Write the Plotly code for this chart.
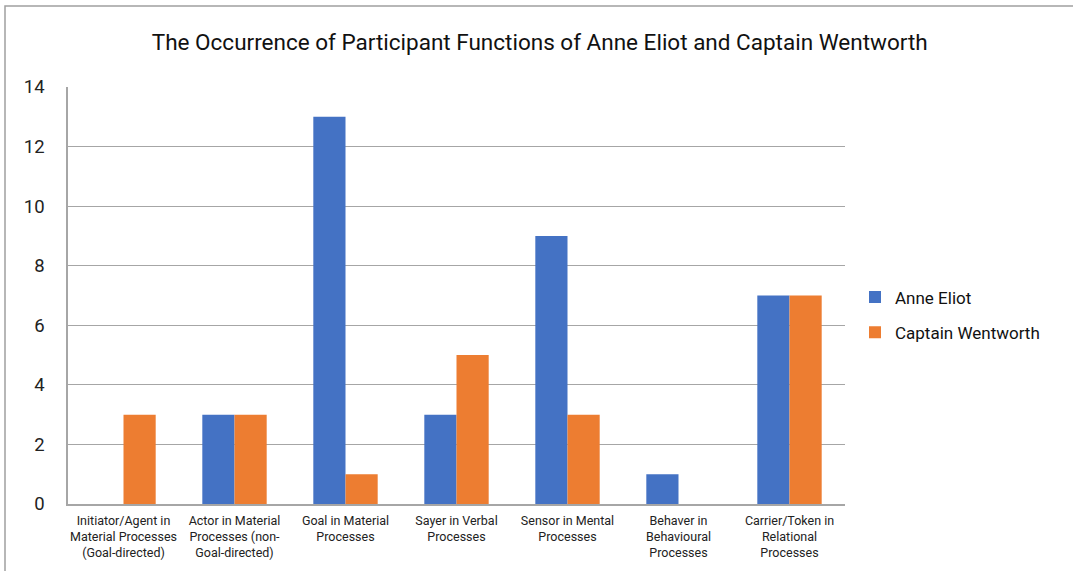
import plotly.graph_objects as go

categories = [
    "Initiator/Agent in<br>Material Processes<br>(Goal-directed)",
    "Actor in Material<br>Processes (non-<br>Goal-directed)",
    "Goal in Material<br>Processes",
    "Sayer in Verbal<br>Processes",
    "Sensor in Mental<br>Processes",
    "Behaver in<br>Behavioural<br>Processes",
    "Carrier/Token in<br>Relational<br>Processes",
]
anne = [0, 3, 13, 3, 9, 1, 7]
wentworth = [3, 3, 1, 5, 3, 0, 7]
series_names = ["Anne Eliot", "Captain Wentworth"]
colors = ["#4472C4", "#ED7D31"]

FONT = "Roboto, 'DejaVu Sans', sans-serif"

fig = go.Figure()
for name, vals, col in zip(series_names, [anne, wentworth], colors):
    fig.add_trace(go.Bar(
        x=categories, y=vals, name=name, marker=dict(color=col, line=dict(width=0)),
        legendgroup=name,
    ))

W, H = 1073, 571
L, R, T, B = 68, 228, 87, 67
pw, ph = W - L - R, H - T - B

def px2x(px):
    return (px - L) / pw

def px2y(py):
    return (H - B - py) / ph

fig.update_layout(
    width=W, height=H,
    margin=dict(l=L, r=R, t=T, b=B, autoexpand=False),
    paper_bgcolor="white", plot_bgcolor="white",
    barmode="group", bargap=0.42, bargroupgap=0,
    font=dict(family=FONT, color="#222222"),
    title=dict(
        text="The Occurrence of Participant Functions of Anne Eliot and Captain Wentworth",
        x=0.503, xref="container", xanchor="center",
        y=1 - 42 / H, yref="container", yanchor="middle",
        font=dict(size=22.5, family=FONT, color="#111111"),
    ),
    xaxis=dict(
        showline=True, linecolor="#a6a6a6", linewidth=1.5,
        showgrid=False, ticks="", tickfont=dict(size=12.5, family=FONT, color="#222222"),
        tickangle=0, ticklabelstandoff=4,
    ),
    yaxis=dict(
        range=[0, 14], dtick=2, showgrid=True, gridcolor="#a6a6a6", gridwidth=1,
        showline=True, linecolor="#a6a6a6", linewidth=1.5, zeroline=False,
        ticks="", tickfont=dict(size=18.5, family=FONT, color="#222222"),
        ticklabelstandoff=18,
    ),
    legend=dict(
        x=px2x(855), y=px2y(315), xanchor="left", yanchor="middle",
        font=dict(size=17, family=FONT, color="#111111"),
        traceorder="grouped", tracegroupgap=10,
        itemwidth=30, bgcolor="rgba(0,0,0,0)",
    ),
    shapes=[dict(
        type="rect", xref="paper", yref="paper",
        x0=px2x(5), x1=px2x(1100), y0=px2y(600), y1=px2y(6),
        line=dict(color="#a0a0a0", width=1.5), fillcolor="rgba(0,0,0,0)", layer="below",
    )],
)

fig.write_html("out.html")
